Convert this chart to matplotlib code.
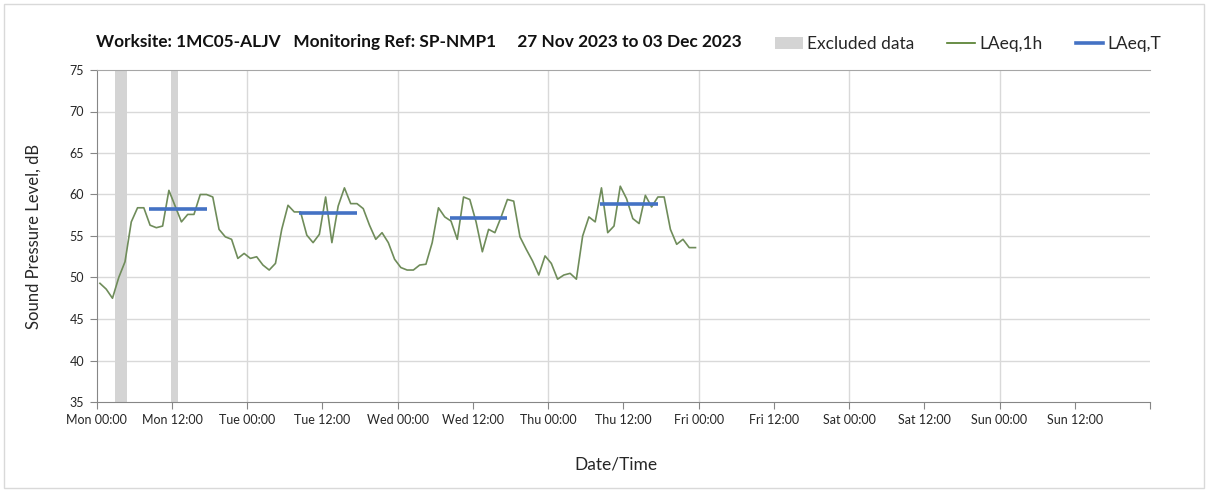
import numpy as np
import matplotlib
matplotlib.use("Agg")
import matplotlib.pyplot as plt
from matplotlib.patches import Patch, Rectangle
from matplotlib.lines import Line2D

plt.rcParams['font.family'] = ['Lato', 'DejaVu Sans']

# ---- data ----
title = "Worksite: 1MC05-ALJV   Monitoring Ref: SP-NMP1     27 Nov 2023 to 03 Dec 2023"
tick_labels = ["Mon 00:00", "Mon 12:00", "Tue 00:00", "Tue 12:00", "Wed 00:00", "Wed 12:00",
               "Thu 00:00", "Thu 12:00", "Fri 00:00", "Fri 12:00", "Sat 00:00", "Sat 12:00",
               "Sun 00:00", "Sun 12:00", ""]
# hourly LAeq,1h values (hours since Mon 00:00, point plotted at mid-hour)
laeq_1h = [49.3, 48.6, 47.5, 50.0, 51.9, 56.7, 58.4, 58.4, 56.3, 56.0, 56.2, 60.5,
           58.6, 56.7, 57.6, 57.6, 60.0, 60.0, 59.7, 55.8, 54.9, 54.6, 52.3, 52.9,
           52.3, 52.5, 51.5, 50.9, 51.7, 55.8, 58.7, 57.9, 57.9, 55.1, 54.2, 55.2,
           59.7, 54.2, 58.6, 60.8, 58.9, 58.9, 58.3, 56.3, 54.6, 55.4, 54.2, 52.2,
           51.2, 50.9, 50.9, 51.5, 51.6, 54.2, 58.4, 57.3, 56.8, 54.6, 59.7, 59.4,
           56.7, 53.1, 55.8, 55.4, 57.3, 59.4, 59.2, 54.9, 53.4, 52.0, 50.3, 52.6,
           51.7, 49.8, 50.3, 50.5, 49.8, 55.0, 57.3, 56.7, 60.8, 55.4, 56.2, 61.0,
           59.5, 57.1, 56.5, 59.9, 58.5, 59.7, 59.7, 55.8, 54.0, 54.6, 53.6, 53.6]
hours = np.arange(len(laeq_1h)) + 0.5

# LAeq,T periods (hours since Mon 00:00)
laeq_t_start = [8.3, 32.3, 56.3, 80.3]
laeq_t_end = [17.5, 41.5, 65.5, 89.5]
laeq_t = [58.2, 57.8, 57.2, 58.8]

# excluded periods
excl_start = [2.9, 11.8]
excl_end = [4.8, 12.9]

# ---- figure ----
W, H = 1208, 492
fig = plt.figure(figsize=(W / 100, H / 100), dpi=100)
ax = fig.add_axes([96.8 / W, 1 - 402 / H, (1150 - 96.8) / W, (402 - 70) / H])

fig.patches.append(Rectangle((4 / W, 4 / H), 1 - 8 / W, 1 - 8 / H, transform=fig.transFigure,
                             fill=False, edgecolor='#d9d9d9', linewidth=1))

for s, e in zip(excl_start, excl_end):
    ax.axvspan(s, e, color='#d4d4d4', lw=0, zorder=1)

ax.plot(hours, laeq_1h, color='#6f8c5a', lw=1.2, zorder=3)
for s, e, v in zip(laeq_t_start, laeq_t_end, laeq_t):
    ax.plot([s, e], [v, v], color='#4472c4', lw=2.6, solid_capstyle='butt', zorder=4)

ax.set_xlim(0, 168)
ax.set_ylim(35, 75)
ax.set_xticks(np.arange(0, 169, 12))
ax.set_xticklabels(tick_labels)
ax.set_yticks(np.arange(35, 76, 5))

for y in np.arange(40, 75, 5):
    ax.axhline(y, color='#d9d9d9', lw=1, zorder=0)
for x in np.arange(24, 168, 24):
    ax.axvline(x, color='#d9d9d9', lw=1, zorder=0)

ax.spines['right'].set_visible(False)
for side in ['left', 'bottom']:
    ax.spines[side].set_color('#868686')
ax.spines['top'].set_color('#a6a6a6')
ax.tick_params(axis='both', colors='#868686', labelcolor='#262626', labelsize=9,
               length=5, direction='out')
ax.tick_params(axis='x', pad=4)
ax.tick_params(axis='y', pad=4)

ax.set_ylabel("Sound Pressure Level, dB", fontsize=12, color='#262626')
ax.yaxis.set_label_coords(-0.052, 0.5)
ax.set_xlabel("Date/Time", fontsize=12.5, color='#262626')
ax.xaxis.set_label_coords(0.4925, -0.165)

fig.text(96 / W, 1 - 42 / H, title, fontsize=12.4, fontweight='bold', color='#111111',
         ha='left', va='center')

handles = [Patch(facecolor='#d4d4d4', edgecolor='none'),
           Line2D([], [], color='#4f7a28', lw=1.2),
           Line2D([], [], color='#4472c4', lw=2.6)]
fig.legend(handles, ["Excluded data", "LAeq,1h", "LAeq,T"], loc='center left',
           bbox_to_anchor=(775 / W, 1 - 44 / H), ncol=3, frameon=False, fontsize=12.5,
           handlelength=1.6, handletextpad=0.25, columnspacing=1.9, borderaxespad=0,
           borderpad=0, labelcolor='#262626')

fig.savefig("out.png", dpi=100)
